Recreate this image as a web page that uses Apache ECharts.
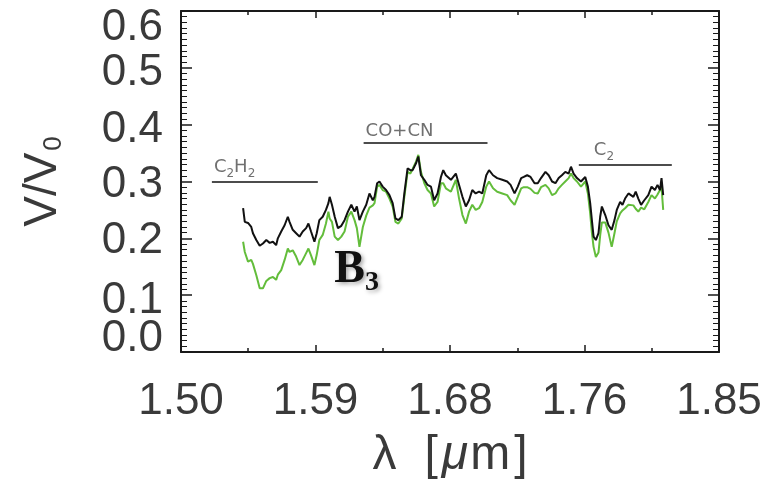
<!DOCTYPE html>
<html>
<head>
<meta charset="utf-8">
<script src="https://cdn.jsdelivr.net/npm/echarts@6/dist/echarts.min.js"></script>
<style>
  html, body { margin: 0; padding: 0; background: #ffffff; }
  #chart { width: 771px; height: 489px; }
</style>
</head>
<body>
<div id="chart"></div>
<script>
// Wavelength samples (micrometres) shared by both spectra
const wavelength = [
  1.5404, 1.5415, 1.5436, 1.5457, 1.5468, 1.5490, 1.5512, 1.5533, 1.5555, 1.5577,
  1.5598, 1.5619, 1.5630, 1.5652, 1.5674, 1.5695, 1.5706, 1.5727, 1.5749, 1.5771,
  1.5792, 1.5814, 1.5829, 1.5846, 1.5868, 1.5883, 1.5900, 1.5922, 1.5943, 1.5959,
  1.5967, 1.5982, 1.6000, 1.6021, 1.6043, 1.6064, 1.6086, 1.6108, 1.6129, 1.6144,
  1.6161, 1.6183, 1.6205, 1.6226, 1.6248, 1.6259, 1.6276, 1.6291, 1.6312, 1.6334,
  1.6356, 1.6377, 1.6395, 1.6414, 1.6436, 1.6453, 1.6474, 1.6492, 1.6507, 1.6529,
  1.6544, 1.6561, 1.6583, 1.6604, 1.6626, 1.6647, 1.6669, 1.6691, 1.6706, 1.6723,
  1.6756, 1.6788, 1.6809, 1.6831, 1.6853, 1.6874, 1.6895, 1.6917, 1.6939, 1.6960,
  1.6986, 1.7004, 1.7030, 1.7057, 1.7090, 1.7122, 1.7144, 1.7170, 1.7191, 1.7213,
  1.7230, 1.7252, 1.7274, 1.7300, 1.7321, 1.7342, 1.7371, 1.7392, 1.7414, 1.7436,
  1.7457, 1.7478, 1.7500, 1.7522, 1.7537, 1.7554, 1.7576, 1.7602, 1.7630, 1.7647,
  1.7662, 1.7673, 1.7684, 1.7699, 1.7716, 1.7727, 1.7738, 1.7760, 1.7781, 1.7802,
  1.7820, 1.7835, 1.7857, 1.7872, 1.7889, 1.7911, 1.7922, 1.7943, 1.7958, 1.7975,
  1.7993, 1.8014, 1.8040, 1.8061, 1.8083, 1.8100, 1.8116, 1.8126, 1.8137
];

// Black spectrum V/V0
const vBlack = [
  0.253, 0.229, 0.227, 0.220, 0.209, 0.197, 0.187, 0.191, 0.197, 0.192,
  0.194, 0.188, 0.200, 0.212, 0.223, 0.238, 0.229, 0.215, 0.209, 0.203,
  0.212, 0.218, 0.226, 0.212, 0.194, 0.209, 0.232, 0.238, 0.250, 0.262,
  0.273, 0.259, 0.238, 0.218, 0.222, 0.232, 0.247, 0.259, 0.247, 0.256,
  0.232, 0.247, 0.259, 0.279, 0.267, 0.273, 0.297, 0.300, 0.291, 0.285,
  0.276, 0.262, 0.235, 0.232, 0.238, 0.279, 0.323, 0.320, 0.320, 0.332,
  0.344, 0.311, 0.303, 0.294, 0.291, 0.267, 0.279, 0.308, 0.320, 0.311,
  0.303, 0.314, 0.294, 0.273, 0.256, 0.267, 0.285, 0.279, 0.282, 0.279,
  0.311, 0.320, 0.311, 0.306, 0.303, 0.300, 0.294, 0.279, 0.291, 0.306,
  0.308, 0.311, 0.308, 0.297, 0.297, 0.306, 0.317, 0.311, 0.300, 0.297,
  0.306, 0.311, 0.317, 0.314, 0.326, 0.314, 0.306, 0.300, 0.308, 0.291,
  0.262, 0.232, 0.203, 0.197, 0.209, 0.238, 0.256, 0.241, 0.223, 0.215,
  0.232, 0.250, 0.264, 0.259, 0.270, 0.279, 0.282, 0.273, 0.282, 0.270,
  0.259, 0.267, 0.276, 0.291, 0.285, 0.294, 0.285, 0.306, 0.276
];

// Green spectrum V/V0
const vGreen = [
  0.194, 0.176, 0.159, 0.162, 0.155, 0.135, 0.112, 0.112, 0.125, 0.130,
  0.132, 0.127, 0.136, 0.144, 0.162, 0.182, 0.176, 0.179, 0.168, 0.153,
  0.162, 0.174, 0.182, 0.170, 0.153, 0.171, 0.197, 0.206, 0.226, 0.247,
  0.235, 0.229, 0.203, 0.197, 0.203, 0.212, 0.238, 0.247, 0.232, 0.218,
  0.185, 0.220, 0.240, 0.254, 0.258, 0.262, 0.291, 0.294, 0.285, 0.282,
  0.270, 0.256, 0.229, 0.226, 0.235, 0.273, 0.317, 0.314, 0.322, 0.335,
  0.347, 0.317, 0.297, 0.285, 0.279, 0.256, 0.264, 0.297, 0.297, 0.288,
  0.282, 0.303, 0.270, 0.241, 0.226, 0.247, 0.259, 0.250, 0.253, 0.264,
  0.291, 0.300, 0.288, 0.282, 0.279, 0.276, 0.267, 0.259, 0.273, 0.288,
  0.290, 0.290, 0.287, 0.280, 0.279, 0.290, 0.294, 0.288, 0.276, 0.279,
  0.288, 0.294, 0.300, 0.306, 0.314, 0.306, 0.300, 0.291, 0.300, 0.279,
  0.244, 0.210, 0.185, 0.167, 0.175, 0.205, 0.228, 0.228, 0.210, 0.185,
  0.209, 0.230, 0.244, 0.249, 0.253, 0.259, 0.262, 0.258, 0.252, 0.247,
  0.254, 0.251, 0.264, 0.276, 0.270, 0.277, 0.285, 0.290, 0.250
];

// Axis tick labels
const xTickLabels = ['1.50', '1.59', '1.68', '1.76', '1.85'];
const yTickLabels = ['0.0', '0.1', '0.2', '0.3', '0.4', '0.5', '0.6'];

// Molecular band markers: name (rich text), wavelength span, level
const bandNames = ['{n|C}{s|2}{n|H}{s|2}', '{n|CO+CN}', '{n|C}{s|2}'];
const bandStart = [1.5201, 1.6188, 1.7588];
const bandEnd   = [1.5890, 1.6994, 1.8193];
const bandLevel = [0.300, 0.369, 0.330];

// Baseline tag
const tagText = '{b|B}{s|3}';
const tagAt = [1.6142, 0.144];

const labelFont = 'Liberation Sans, Arial, sans-serif';
const textColor = '#3a3a3a';
const axisColor = '#1a1a1a';

// Vertical nudges (px) for the y tick labels, bottom to top
const yLabelShift = [-13, 6, 3, 3, 5, 5, 17];
const yRich = {};
yLabelShift.forEach(function (d, i) {
  yRich['t' + i] = {
    fontFamily: labelFont, fontSize: 44, color: textColor, lineHeight: 8, height: 8,
    padding: d >= 0 ? [2 * d, 0, 0, 0] : [0, 0, -2 * d, 0]
  };
});

const bandRich = {
  n: { fontFamily: 'DejaVu Sans, sans-serif', fontSize: 18, color: '#707070' },
  s: { fontFamily: 'DejaVu Sans, sans-serif', fontSize: 12, color: '#707070', padding: [12, 0, 0, 0] }
};
const bandPadLeft = [0, 0, 13];

const chart = echarts.init(document.getElementById('chart'), null, { renderer: 'canvas' });

// Frame axes: ticks point into the plot on all four sides
function xFrame(pos, extra) {
  return Object.assign({
    type: 'value', min: 1.5, max: 1.85, interval: 0.0875, position: pos,
    axisLine: { show: true, onZero: false, lineStyle: { color: axisColor, width: 2 } },
    axisTick: { show: true, inside: true, length: 7, lineStyle: { color: axisColor, width: 1.5 } },
    minorTick: { show: true, splitNumber: 2, length: 4, lineStyle: { color: axisColor, width: 1.5 } },
    splitLine: { show: false }, minorSplitLine: { show: false }
  }, extra);
}
function yFrame(pos, extra) {
  return Object.assign({
    type: 'value', min: 0, max: 0.6, interval: 0.1, position: pos,
    axisLine: { show: true, onZero: false, lineStyle: { color: axisColor, width: 2 } },
    axisTick: { show: true, inside: true, length: 11, lineStyle: { color: axisColor, width: 1.5 } },
    minorTick: { show: true, splitNumber: 10, length: 6, lineStyle: { color: axisColor, width: 1 } },
    splitLine: { show: false }, minorSplitLine: { show: false }
  }, extra);
}

const xNameStyle = { fontFamily: labelFont, fontSize: 48, color: textColor };

const option = {
  animation: false,
  backgroundColor: '#ffffff',
  grid: { left: 181, right: 52, top: 11, bottom: 137, outerBoundsMode: 'none' },
  xAxis: [
    xFrame('bottom', {
      axisLabel: {
        show: true, margin: 28, fontFamily: labelFont, fontSize: 44, color: textColor,
        hideOverlap: false, showMinLabel: true, showMaxLabel: true,
        formatter: function (v, i) { return xTickLabels[i]; }
      },
      name: '{l|λ}{a|[}{m|μ}{a|m}{r|]}',
      nameLocation: 'middle', nameGap: 80,
      nameTextStyle: {
        rich: {
          l: Object.assign({}, xNameStyle, { padding: [0, 28, 0, 0] }),
          a: xNameStyle,
          m: Object.assign({}, xNameStyle, { fontStyle: 'italic', padding: [0, 2, 0, 4] }),
          r: Object.assign({}, xNameStyle, { padding: [0, 0, 0, 4] })
        }
      }
    }),
    xFrame('top', { axisLabel: { show: false } })
  ],
  yAxis: [
    // Main left axis: labels 0.1 .. 0.6
    yFrame('left', {
      axisLabel: {
        show: true, margin: 18, hideOverlap: false, showMinLabel: false, showMaxLabel: true,
        formatter: function (v, i) { return i === 0 ? '' : '{t' + i + '|' + yTickLabels[i] + '}'; },
        rich: yRich
      },
      name: '{n|V/V}{s|0}',
      nameLocation: 'middle', nameGap: 114, nameRotate: 90,
      nameTextStyle: {
        rich: {
          n: { fontFamily: labelFont, fontSize: 46, color: textColor },
          s: { fontFamily: labelFont, fontSize: 26, color: textColor, padding: [22, 0, 0, 2] }
        }
      }
    }),
    yFrame('right', { axisLabel: { show: false } }),
    // Companion left axis carrying only the 0.0 label
    {
      type: 'value', min: 0, max: 0.6, interval: 0.1, position: 'left',
      axisLine: { show: false }, axisTick: { show: false },
      splitLine: { show: false }, minorTick: { show: false },
      axisLabel: {
        show: true, margin: 18, hideOverlap: false, showMinLabel: true, showMaxLabel: false,
        formatter: function (v, i) { return i === 0 ? '{t0|' + yTickLabels[0] + '}' : ''; },
        rich: yRich
      }
    }
  ],
  series: [
    {
      name: 'green', type: 'line', xAxisIndex: 0, yAxisIndex: 0,
      data: wavelength.map(function (x, i) { return [x, vGreen[i]]; }),
      showSymbol: false, smooth: false, silent: true,
      lineStyle: { color: '#63bd3b', width: 2 }, itemStyle: { color: '#63bd3b' }
    },
    {
      name: 'black', type: 'line', xAxisIndex: 0, yAxisIndex: 0,
      data: wavelength.map(function (x, i) { return [x, vBlack[i]]; }),
      showSymbol: false, smooth: false, silent: true,
      lineStyle: { color: '#111111', width: 2 }, itemStyle: { color: '#111111' },
      markLine: {
        silent: true, symbol: ['none', 'none'], precision: 4,
        lineStyle: { color: '#111111', width: 1.5, type: 'solid' },
        data: bandNames.map(function (name, i) {
          return [
            {
              coord: [bandStart[i], bandLevel[i]],
              label: {
                show: true, position: 'insideStartTop', distance: 2,
                formatter: name, rich: bandRich, padding: [0, 0, 0, bandPadLeft[i]]
              }
            },
            { coord: [bandEnd[i], bandLevel[i]] }
          ];
        })
      },
      markPoint: {
        silent: true, symbol: 'circle', symbolSize: 1,
        itemStyle: { color: 'rgba(0,0,0,0)' },
        data: [{
          coord: tagAt,
          label: {
            show: true, position: 'inside', formatter: tagText,
            rich: {
              b: {
                fontFamily: 'Liberation Serif, Times New Roman, serif', fontWeight: 'bold',
                fontSize: 46, color: '#111111',
                textShadowColor: 'rgba(0,0,0,0.35)', textShadowBlur: 4,
                textShadowOffsetX: 2, textShadowOffsetY: 2
              },
              s: {
                fontFamily: 'Liberation Serif, Times New Roman, serif', fontWeight: 'bold',
                fontSize: 28, color: '#111111', padding: [26, 0, 0, 0],
                textShadowColor: 'rgba(0,0,0,0.35)', textShadowBlur: 4,
                textShadowOffsetX: 2, textShadowOffsetY: 2
              }
            }
          }
        }]
      }
    }
  ]
};

chart.setOption(option);
</script>
</body>
</html>
